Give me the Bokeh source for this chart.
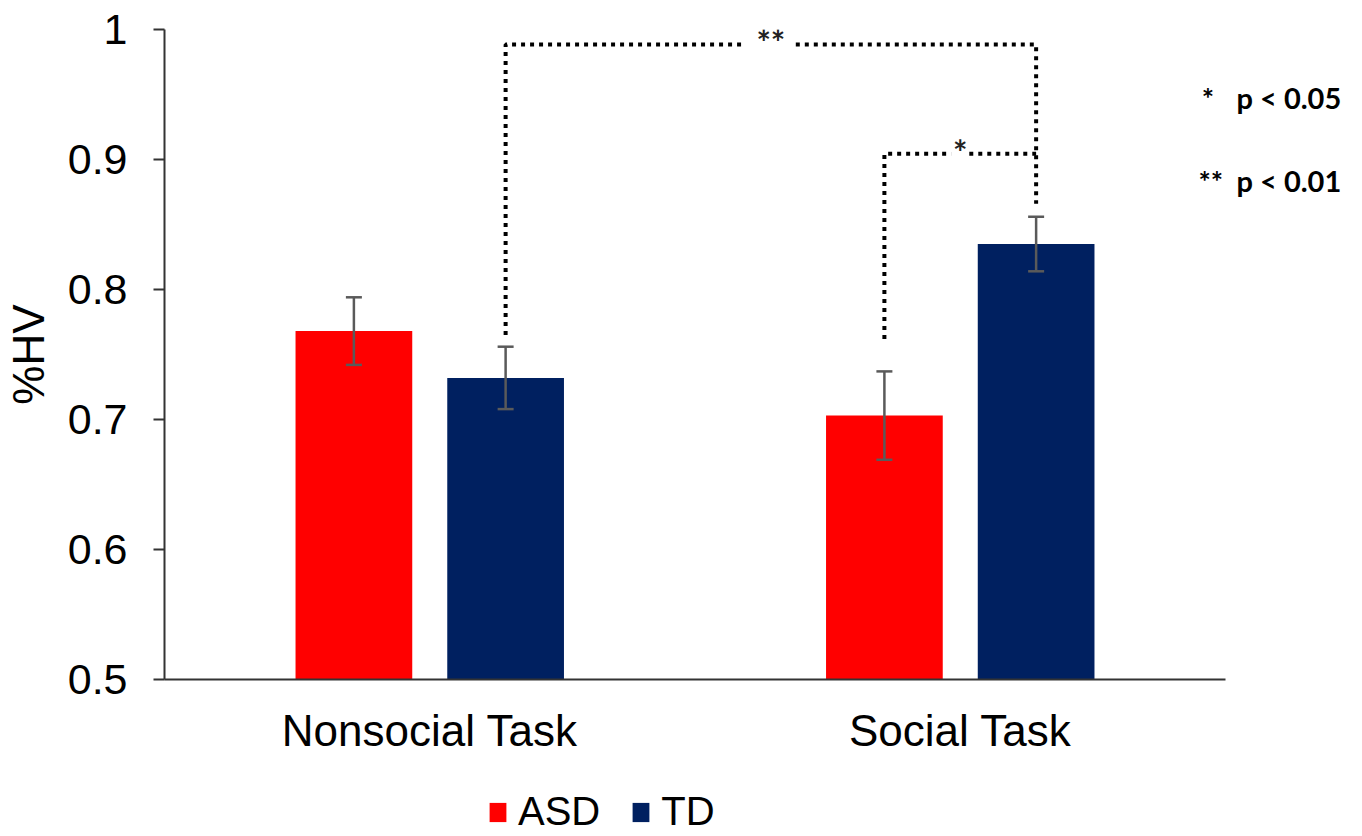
from bokeh.plotting import figure
from bokeh.layouts import column
from bokeh.models import (Range1d, Whisker, ColumnDataSource, Legend, LegendItem,
                          Label, TeeHead, FixedTicker)
from bokeh.embed import file_html
from bokeh.resources import INLINE
from bokeh.core.properties import value

# ---- data ----
tasks = ["Nonsocial Task", "Social Task"]
groups = ["ASD", "TD"]
asd_mean = [0.768, 0.703]
asd_err = [0.026, 0.034]
td_mean = [0.732, 0.835]
td_err = [0.024, 0.021]
y_ticks = [0.5, 0.6, 0.7, 0.8, 0.9, 1.0]
y_tick_labels = ["0.5", "0.6", "0.7", "0.8", "0.9", "1"]
sig_labels = ["**", "*"]
sig_legend = [("*", "p < 0.05"), ("**", "p < 0.01")]

colors = {"ASD": "#FF0000", "TD": "#002060"}
offsets = {"ASD": -0.143, "TD": 0.143}
BAR_W = 0.22
FONT = "Liberation Sans"
N = len(tasks)
cat_centers = [i + 0.5 for i in range(N)]

W = 1350
H_MAIN = 770
H_LEG = 64

p = figure(x_range=Range1d(0, 2.2356), y_range=Range1d(0.5, 1.0),
           width=W, height=H_MAIN, output_backend="svg", toolbar_location=None,
           min_border_left=164, min_border_right=0, min_border_top=29,
           min_border_bottom=H_MAIN - 679)
p.outline_line_color = None
p.xgrid.visible = False
p.ygrid.visible = False

for g, means, errs in (("ASD", asd_mean, asd_err), ("TD", td_mean, td_err)):
    src = ColumnDataSource(dict(
        x=[c + offsets[g] for c in cat_centers], top=means,
        upper=[m + e for m, e in zip(means, errs)],
        lower=[m - e for m, e in zip(means, errs)]))
    p.vbar(x="x", top="top", bottom=0.5, width=BAR_W, source=src,
           fill_color=colors[g], line_color=None)
    wcol = "#5a5a5a"
    w = Whisker(base="x", upper="upper", lower="lower",
                source=src, line_color=wcol, line_width=2.5, level="overlay",
                upper_head=TeeHead(size=16, line_color=wcol, line_width=2.5),
                lower_head=TeeHead(size=16, line_color=wcol, line_width=2.5))
    p.add_layout(w)

# ---- significance brackets ----
x_td_ns = cat_centers[0] + offsets["TD"]
x_asd_s = cat_centers[1] + offsets["ASD"]
x_td_s = cat_centers[1] + offsets["TD"]
y_hi, y_lo = 0.9885, 0.9045
bot_td_ns, bot_asd_s, bot_td_s = 0.765, 0.762, 0.866
mid1 = (x_td_ns + x_td_s) / 2
mid2 = (x_asd_s + x_td_s) / 2
g1, g2 = 0.047, 0.017

xs = [[x_td_ns, x_td_ns, mid1 - g1], [mid1 + g1, x_td_s, x_td_s],
      [x_asd_s, x_asd_s, mid2 - g2], [mid2 + g2, x_td_s]]
ys = [[bot_td_ns, y_hi, y_hi], [y_hi, y_hi, bot_td_s],
      [bot_asd_s, y_lo, y_lo], [y_lo, y_lo]]
p.multi_line(xs=xs, ys=ys, line_color="black", line_width=4, line_dash="4 5",
             line_cap="butt")
p.text(x=[mid1, mid2], y=[y_hi + 0.002, y_lo + 0.002], text=sig_labels, text_align="center",
       text_baseline="middle", text_font=value("Lato"), text_font_style="bold",
       text_font_size="34px", text_color="#222222")

# ---- p-value key (top right) ----
for (stars, txt), yy, sx in zip(sig_legend, [0.9477, 0.8838], [1.955, 1.949]):
    p.add_layout(Label(x=sx, y=yy, text=stars, text_align="left", text_baseline="middle",
                       text_font="Lato", text_font_style="bold", text_font_size="29px",
                       text_color="black"))
    p.add_layout(Label(x=2.0207, y=yy, text=txt, text_align="left", text_baseline="middle",
                       text_font="Lato", text_font_style="bold", text_font_size="29px",
                       text_color="black"))

# ---- axes ----
ax = p.xaxis[0]
ax.bounds = (0, N)
ax.ticker = FixedTicker(ticks=cat_centers)
ax.major_label_overrides = dict(zip(cat_centers, tasks))
ax.axis_line_width = 2
ax.axis_line_color = "#333333"
ax.major_tick_out = 0
ax.major_tick_in = 0
ax.minor_tick_out = 0
ax.minor_tick_in = 0
ax.major_label_text_font = FONT
ax.major_label_text_font_size = "44px"
ax.major_label_text_color = "black"
ax.major_label_standoff = 26

ay = p.yaxis[0]
ay.ticker = FixedTicker(ticks=y_ticks)
ay.major_label_overrides = dict(zip(y_ticks, y_tick_labels))
ay.axis_line_width = 2
ay.axis_line_color = "#333333"
ay.major_tick_out = 11
ay.major_tick_in = 0
ay.major_tick_line_width = 2
ay.major_tick_line_color = "#333333"
ay.minor_tick_out = 0
ay.minor_tick_in = 0
ay.major_label_text_font = FONT
ay.major_label_text_font_size = "43px"
ay.major_label_text_color = "black"
ay.major_label_standoff = 26
ay.axis_label = "%HV"
ay.axis_label_text_font = FONT
ay.axis_label_text_font_size = "44px"
ay.axis_label_text_font_style = "normal"
ay.axis_label_text_color = "black"
ay.axis_label_standoff = 12

# ---- group legend (own strip below the chart; its frame aligns with the chart's) ----
lf = figure(x_range=Range1d(0, 1), y_range=Range1d(0, 1), width=W, height=H_LEG,
            output_backend="svg", toolbar_location=None,
            x_axis_location=None, y_axis_location=None,
            min_border_left=0, min_border_right=0, min_border_top=0, min_border_bottom=0)
lf.grid.visible = False
lf.outline_line_color = None
items = []
for g in groups:
    # legend proxy renderer (zero-height bar, draws nothing itself)
    r = lf.vbar(x=[0.5], top=[0], bottom=[0], width=0, fill_color=colors[g], line_color=None)
    items.append(LegendItem(label=g, renderers=[r]))
legend = Legend(items=items, orientation="horizontal", location=(323, 0),
                label_text_font=FONT, label_text_font_size="40px", label_text_color="black",
                glyph_width=21, glyph_height=24, label_standoff=10, spacing=30,
                padding=0, margin=0, border_line_color=None, background_fill_alpha=0)
lf.add_layout(legend)

layout = column(p, lf, spacing=0)
open("out.html", "w").write(file_html(layout, INLINE))
